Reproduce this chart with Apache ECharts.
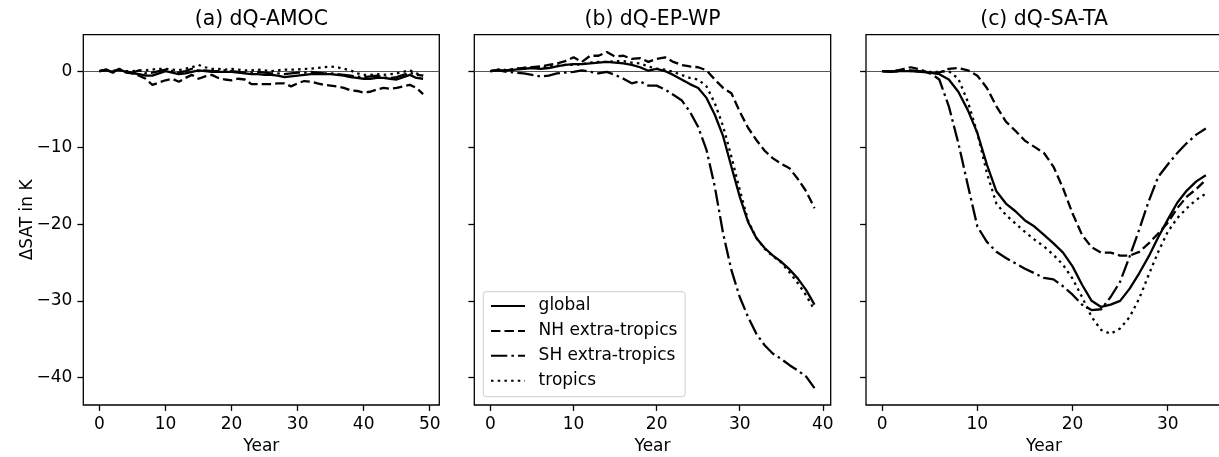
<!DOCTYPE html>
<html>
<head>
<meta charset="utf-8">
<script src="https://cdn.jsdelivr.net/npm/echarts@6/dist/echarts.min.js"></script>
<style>
html,body{margin:0;padding:0;background:#fff;}
#chart{width:1219px;height:457px;}
</style>
</head>
<body>
<div id="chart"></div>
<script>
// ---------- DATA ----------
const panelTitles = ['(a) dQ-AMOC', '(b) dQ-EP-WP', '(c) dQ-SA-TA'];
const seriesNames = ['global', 'NH extra-tropics', 'SH extra-tropics', 'tropics'];
const xTicksA = [0, 10, 20, 30, 40, 50];
const xTicksB = [0, 10, 20, 30, 40];
const xTicksC = [0, 10, 20, 30];
const yTicks = [0, -10, -20, -30, -40];

// (a) dQ-AMOC, years 0..49
const aGlobal = [0,0.1,-0.1,0.2,-0.1,-0.3,-0.4,-0.6,-0.6,-0.3,0,-0.2,-0.4,-0.3,-0.1,0.1,0,-0.1,-0.1,-0.1,-0.1,-0.2,-0.3,-0.4,-0.4,-0.5,-0.5,-0.6,-0.8,-0.7,-0.6,-0.5,-0.4,-0.4,-0.4,-0.4,-0.5,-0.6,-0.8,-0.9,-1.0,-1.0,-0.9,-0.9,-1.0,-1.1,-0.8,-0.5,-0.9,-1.0];
const aNH = [0,0.2,-0.1,0.3,-0.2,-0.3,-0.6,-1.0,-1.8,-1.5,-1.2,-1.0,-1.4,-0.9,-0.5,-1.0,-0.7,-0.5,-0.9,-1.1,-1.2,-1.0,-1.1,-1.7,-1.7,-1.7,-1.7,-1.6,-1.6,-2.0,-1.6,-1.3,-1.4,-1.6,-1.8,-1.9,-2.0,-2.2,-2.5,-2.6,-2.8,-2.7,-2.4,-2.2,-2.3,-2.2,-2.0,-1.8,-2.2,-3.0];
const aSH = [0,0.2,-0.2,0.1,-0.1,-0.2,0.1,-0.3,-0.2,0,0.2,0,-0.2,0,0.3,0,0.1,0,0,0.1,0,-0.1,-0.2,-0.2,-0.1,-0.2,-0.3,-0.3,-0.4,-0.3,-0.2,-0.2,-0.1,-0.2,-0.3,-0.3,-0.4,-0.5,-0.6,-0.7,-0.8,-0.7,-0.6,-0.8,-0.9,-0.8,-0.5,-0.2,-0.5,-0.6];
const aTrop = [0,0.1,0,0.2,0,0,0.1,0.1,0.2,0.3,0.3,0.2,0.1,0.3,0.5,0.8,0.5,0.3,0.3,0.2,0.3,0.2,0.1,0.1,0.2,0.1,0,0.1,0.2,0.2,0.2,0.3,0.3,0.4,0.5,0.6,0.5,0.3,0.1,-0.3,-0.5,-0.5,-0.4,-0.5,-0.4,-0.3,-0.1,0.1,-0.3,-0.6];

// (b) dQ-EP-WP, years 0..39
const bGlobal = [0,0.1,0.1,0.2,0.3,0.4,0.3,0.4,0.6,0.8,0.9,0.9,1.0,1.1,1.2,1.1,1.0,0.8,0.5,0.05,0.3,0,-0.5,-1.1,-1.7,-2.2,-3.5,-5.7,-8.5,-12.5,-16.4,-19.7,-21.8,-23.1,-24.1,-24.9,-25.9,-27.1,-28.6,-30.5];
const bNH = [0,0.2,0.1,0.3,0.4,0.5,0.6,0.8,1.0,1.3,1.8,1.2,2.0,2.0,2.5,1.9,2.0,1.6,1.7,1.2,1.6,1.8,1.2,0.8,0.6,0.5,0.1,-1.1,-2.2,-2.9,-5.3,-7.4,-9.0,-10.4,-11.4,-12.1,-12.7,-14.1,-15.7,-17.9];
const bSH = [0,0.1,-0.1,-0.2,-0.3,-0.5,-0.7,-0.6,-0.3,-0.2,-0.1,0.1,-0.1,-0.3,-0.1,-0.5,-1.0,-1.6,-1.35,-1.9,-1.9,-2.4,-3.1,-3.8,-5.3,-7.3,-10.3,-15.1,-21.2,-26.0,-29.5,-32.1,-34.3,-35.8,-36.9,-37.6,-38.4,-39.1,-39.9,-41.4];
const bTrop = [0,0.2,0.1,0.3,0.4,0.5,0.4,0.6,0.7,0.8,0.8,0.9,1.1,1.2,1.2,1.3,1.3,1.1,1.0,0.6,0.3,0.2,-0.1,-0.5,-0.9,-1.1,-2.0,-4.2,-7.2,-11.2,-15.5,-19.5,-21.8,-23.2,-24.2,-25.0,-26.3,-27.7,-29.3,-31.2];

// (c) dQ-SA-TA, years 0..34
const cGlobal = [0,0,0,0,-0.1,-0.2,-0.4,-1.1,-2.7,-5.1,-8.1,-12.2,-15.7,-17.3,-18.3,-19.5,-20.3,-21.4,-22.5,-23.7,-25.5,-27.9,-30.0,-30.8,-30.5,-30.0,-28.4,-26.4,-24.2,-21.7,-19.4,-17.2,-15.6,-14.4,-13.6];
const cNH = [0,-0.1,0.2,0.5,0.2,-0.3,-0.2,0.3,0.4,0.1,-0.6,-2.2,-4.6,-6.6,-7.8,-9.1,-9.9,-10.7,-12.5,-15.3,-18.6,-21.4,-23.0,-23.7,-23.7,-24.1,-24.1,-23.6,-22.5,-21.2,-19.8,-17.9,-16.4,-15.4,-14.2];
const cSH = [0,-0.1,0,0.1,0,-0.2,-1.1,-4.6,-9.4,-14.9,-20.3,-22.3,-23.6,-24.4,-25.1,-25.8,-26.4,-27.0,-27.2,-28.1,-29.2,-30.5,-31.2,-31.1,-29.5,-27.5,-24.2,-20.7,-17.0,-13.8,-12.2,-10.7,-9.4,-8.3,-7.5];
const cTrop = [0,0,0.1,0,0,-0.1,-0.1,0,-1.0,-4.0,-8.1,-13.3,-17.3,-18.8,-19.9,-21.0,-22.0,-22.9,-24.0,-25.3,-27.1,-29.5,-32.1,-33.8,-34.3,-33.6,-32.1,-29.7,-26.6,-23.6,-21.0,-19.2,-17.9,-16.8,-16.0];

// ---------- STYLE / LAYOUT ----------
const FONT = 'DejaVu Sans';
const FS = 17;
const LW = 2.3;
const dashStyles = ['solid', [9.4, 4.1], [16.3, 4.1, 2.5, 4.1], [2.5, 4.2]];
const grids = [
  {left: 83.3, top: 34.7, width: 356, height: 370.3},
  {left: 474.3, top: 34.7, width: 356.4, height: 370.3},
  {left: 866, top: 34.7, width: 356, height: 370.3}
];
const xRanges = [[-2.45, 51.45], [-1.95, 40.95], [-1.7, 35.7]];
const xTicks = [xTicksA, xTicksB, xTicksC];
const panelData = [
  [aGlobal, aNH, aSH, aTrop],
  [bGlobal, bNH, bSH, bTrop],
  [cGlobal, cNH, cSH, cTrop]
];
const minus = v => (v < 0 ? '\u2212' + Math.abs(v) : String(v));

const option = {
  animation: false,
  backgroundColor: '#fff',
  textStyle: {fontFamily: FONT},
  title: panelTitles.map((t, i) => ({
    text: t,
    left: grids[i].left + grids[i].width / 2,
    top: 10,
    padding: 0,
    textAlign: 'center',
    textStyle: {fontFamily: FONT, fontSize: 20.4, fontWeight: 'normal', color: '#000'}
  })),
  grid: grids.map(g => Object.assign({
    show: true, borderColor: '#000', borderWidth: 1.3, backgroundColor: 'transparent',
    containLabel: false, outerBoundsMode: 'none'
  }, g)),
  xAxis: grids.map((g, i) => ({
    type: 'value', gridIndex: i, min: xRanges[i][0], max: xRanges[i][1],
    name: 'Year', nameLocation: 'middle', nameGap: 33.5, nameMoveOverlap: false,
    nameTextStyle: {fontFamily: FONT, fontSize: FS, color: '#000'},
    axisLine: {show: false, onZero: false},
    splitLine: {show: false},
    axisTick: {show: true, inside: false, length: 5.9, lineStyle: {color: '#000', width: 1.3}, customValues: xTicks[i]},
    axisLabel: {show: true, margin: 11.5, fontFamily: FONT, fontSize: FS, color: '#000', customValues: xTicks[i], formatter: minus}
  })),
  yAxis: grids.map((g, i) => ({
    type: 'value', gridIndex: i, min: -43.6, max: 4.75,
    name: i === 0 ? 'ΔSAT in K' : '', nameLocation: 'middle', nameRotate: 90, nameGap: 47, nameMoveOverlap: false,
    nameTextStyle: {fontFamily: FONT, fontSize: FS, color: '#000'},
    axisLine: {show: false, onZero: false},
    splitLine: {show: false},
    axisTick: {show: true, inside: false, length: 5.9, lineStyle: {color: '#000', width: 1.3}, customValues: yTicks},
    axisLabel: {show: i === 0, margin: 11, fontFamily: FONT, fontSize: FS, color: '#000', customValues: yTicks, formatter: minus}
  })),
  legend: {
    show: true,
    orient: 'vertical',
    left: 483.3, top: 291.7,
    padding: [5.8, 7.8, 7.5, 6.7],
    itemWidth: 34, itemHeight: 17, itemGap: 7.9,
    backgroundColor: 'rgba(255,255,255,0.8)',
    borderColor: '#cccccc', borderWidth: 1, borderRadius: 3,
    itemStyle: {color: 'rgba(0,0,0,0)', borderColor: 'rgba(0,0,0,0)', borderWidth: 0},
    textStyle: {fontFamily: FONT, fontSize: FS, lineHeight: 17, color: '#000', padding: [0, 0, 0, 8.6]},
    data: seriesNames.slice(),
    selectedMode: false
  },
  series: []
};

panelData.forEach((arrs, p) => {
  arrs.forEach((vals, s) => {
    const ser = {
      type: 'line', name: seriesNames[s], xAxisIndex: p, yAxisIndex: p,
      data: vals.map((v, i) => [i, v]),
      symbol: 'none', showSymbol: false, silent: true,
      lineStyle: {color: '#000', width: LW, type: dashStyles[s], cap: 'butt'},
      itemStyle: {color: '#000'},
      z: 3
    };
    if (s === 0) {
      ser.markLine = {
        silent: true, symbol: 'none', label: {show: false},
        lineStyle: {color: '#555', width: 1, type: 'solid'},
        data: [{yAxis: 0}], z: 2
      };
    }
    option.series.push(ser);
  });
});

const chart = echarts.init(document.getElementById('chart'), null, {renderer: 'canvas'});
chart.setOption(option);
</script>
</body>
</html>
